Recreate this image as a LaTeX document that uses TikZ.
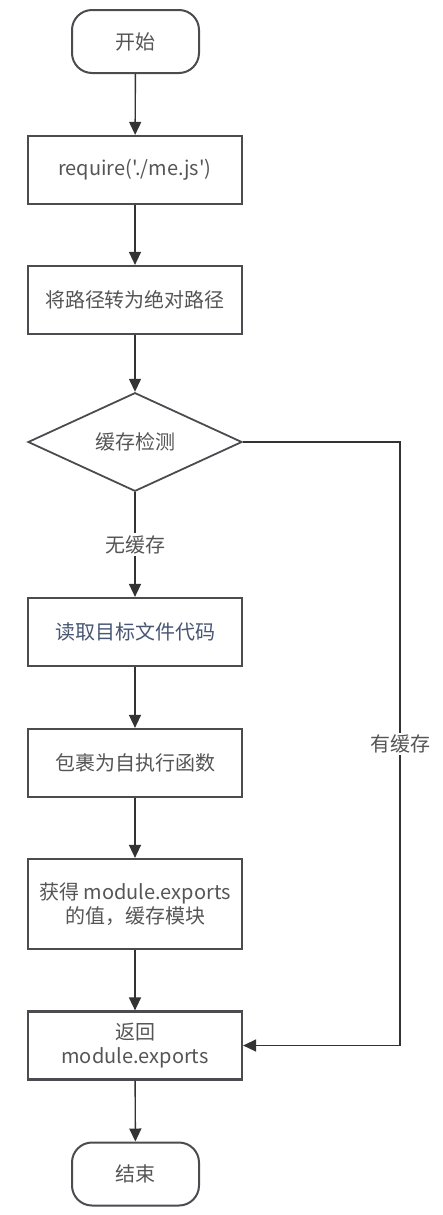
\documentclass[tikz,border=0pt]{standalone}
\usepackage{fontspec}
\setmainfont{Noto Sans CJK SC}[Ligatures=TeXOff]
\usetikzlibrary{positioning, shapes.geometric, arrows.meta}

\begin{document}
\begin{tikzpicture}[x=0.5pt, y=-0.5pt]

% Define colors
\definecolor{myline}{RGB}{51, 51, 51}
\definecolor{myborder}{RGB}{74, 76, 80}
\definecolor{mytext}{RGB}{85, 85, 85}
\definecolor{myblue}{RGB}{70, 86, 115}

\tikzset{
  term/.style={draw=myborder, line width=1pt, rounded corners=10pt, minimum width=63.5pt, minimum height=31.5pt, text=mytext, font=\normalsize},
  proc/.style={draw=myborder, line width=1.1pt, minimum width=107pt, minimum height=34pt, text=mytext, align=center, font=\normalsize},
  decision/.style={draw=myborder, line width=0.9pt, diamond, inner sep=0pt, minimum width=107pt, minimum height=43.5pt, text=mytext, font=\normalsize},
  flow/.style={draw=myline, line width=0.7pt, -{Triangle[width=6pt, length=6.5pt]}},
  lbl/.style={fill=white, text=mytext, font=\normalsize, inner sep=1pt}
}

\useasboundingbox (0,0) rectangle (443,1215);

% Draw the nodes
\node[term] (start) at (135.5,41.5) {开始};
\node[proc] (require) at (135,170) {require('./me.js')};
\node[proc] (abspath) at (135,300) {将路径转为绝对路径};
\node[decision] (cache) at (135,442) {缓存检测};
\node[proc, text=myblue] (read) at (135,632) {读取目标文件代码};
\node[proc] (wrap) at (135,763) {包裹为自执行函数};
\node[proc, minimum height=45pt] (getexp) at (135,904) {获得 module.exports\\的值，缓存模块};
\node[proc] (ret) at (135,1045.5) {返回\\module.exports};
\node[term] (finish) at (135.5,1174) {结束};

% Draw the arrows
\draw[flow] (start) -- (require);
\draw[flow] (require) -- (abspath);
\draw[flow] (abspath) -- (cache);
\draw[flow] (cache) -- node[lbl, pos=0.5] {无缓存} (read);
\draw[flow] (read) -- (wrap);
\draw[flow] (wrap) -- (getexp);
\draw[flow] (getexp) -- (ret);
\draw[flow] (ret) -- (finish);

% Cached branch on the right
\coordinate (bend) at (400,442);
\draw[flow] (cache.east) -- (bend) |- node[lbl, pos=0.25] {有缓存} (ret.east);

\end{tikzpicture}
\end{document}
